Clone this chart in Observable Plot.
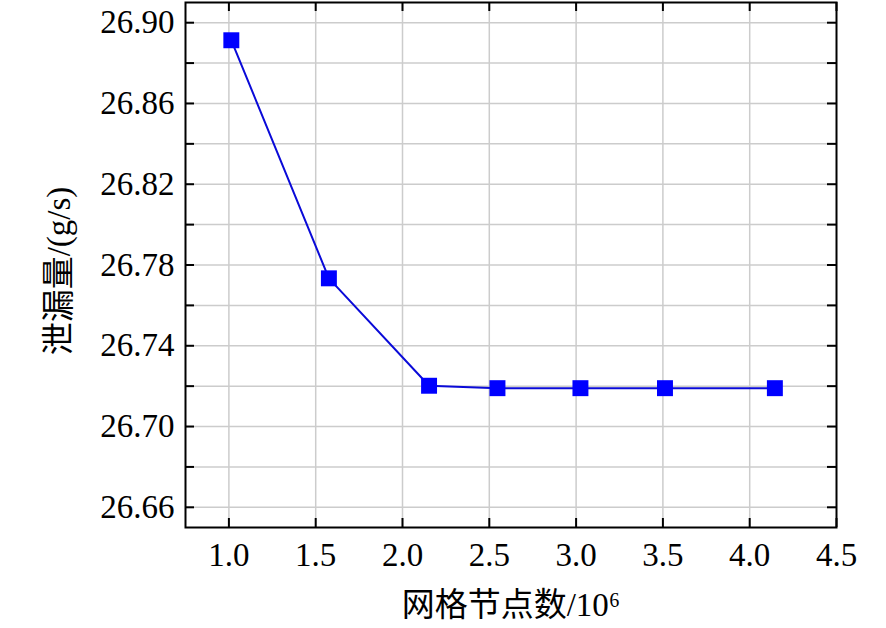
<!DOCTYPE html>
<html>
<head>
<meta charset="utf-8">
<script src="https://cdn.jsdelivr.net/npm/d3@7"></script>
<script src="https://cdn.jsdelivr.net/npm/@observablehq/plot@0.6"></script>
<style>
  html, body { margin: 0; padding: 0; background: #fff; }
</style>
</head>
<body>
<div id="chart"></div>
<script>
// Data
const nodes = [1.014, 1.576, 2.153, 2.547, 3.025, 3.512, 4.145];      // 网格节点数 /10^6
const leakage = [26.8913, 26.7734, 26.7202, 26.7190, 26.7190, 26.7190, 26.7190]; // 泄漏量 g/s

const xTicks = [1.0, 1.5, 2.0, 2.5, 3.0, 3.5, 4.0, 4.5];
const yLabelTicks = [26.66, 26.70, 26.74, 26.78, 26.82, 26.86, 26.90];
const yAllTicks = [26.66, 26.68, 26.70, 26.72, 26.74, 26.76, 26.78, 26.80, 26.82, 26.84, 26.86, 26.88, 26.90];
const xGrid = [1.0, 1.5, 2.0, 2.5, 3.0, 3.5, 4.0];
const xDomain = [0.75, 4.5];
const yDomain = [26.65, 26.91];
const xLabel = "网格节点数/10⁶";
const yLabel = "泄漏量/(g/s)";

const data = nodes.map((x, i) => ({x, y: leakage[i]}));

const W = 886, H = 628;
const mL = 185, mR = 50, mT = 2, mB = 101;
const innerW = W - mL - mR, innerH = H - mT - mB;
const tickLen = 9;
const font = "'Liberation Serif', 'Noto Sans CJK SC', serif";

const chart = Plot.plot({
  width: W,
  height: H,
  marginLeft: mL,
  marginRight: mR,
  marginTop: mT,
  marginBottom: mB,
  style: {fontFamily: font, fontSize: "33px", color: "#000", background: "#fff"},
  x: {domain: xDomain},
  y: {domain: yDomain},
  marks: [
    // grid
    Plot.ruleX(xGrid, {x: d => d, stroke: "#cccccc", strokeWidth: 1.5}),
    Plot.ruleY(yAllTicks, {y: d => d, stroke: "#cccccc", strokeWidth: 1.5}),
    // inward ticks: bottom & top
    Plot.ruleX(xTicks, {x: d => d, insetTop: innerH - tickLen, stroke: "#000", strokeWidth: 2}),
    Plot.ruleX(xTicks, {x: d => d, insetBottom: innerH - tickLen, stroke: "#000", strokeWidth: 2}),
    // inward ticks: left & right
    Plot.ruleY(yAllTicks, {y: d => d, insetRight: innerW - tickLen, stroke: "#000", strokeWidth: 2}),
    Plot.ruleY(yAllTicks, {y: d => d, insetLeft: innerW - tickLen, stroke: "#000", strokeWidth: 2}),
    // frame
    Plot.frame({stroke: "#000", strokeWidth: 2}),
    // tick labels
    Plot.axisX(xTicks, {tickSize: 0, tickPadding: 15, tickFormat: d3.format(".1f"), fontSize: 33, label: null}),
    Plot.axisY(yLabelTicks, {tickSize: 0, tickPadding: 11, tickFormat: d3.format(".2f"), fontSize: 33, label: null}),
    // axis titles
    Plot.text([xLabel], {text: d => d, frameAnchor: "bottom", lineAnchor: "middle", textAnchor: "middle", dy: 78, fontSize: 33, fill: "#000"}),
    Plot.text([yLabel], {text: d => d, frameAnchor: "left", textAnchor: "middle", lineAnchor: "middle", rotate: -90, dx: -126, dy: 6, fontSize: 33, fill: "#000"}),
    // series
    Plot.line(data, {x: "x", y: "y", stroke: "#0a0ad8", strokeWidth: 2}),
    Plot.dot(data, {x: "x", y: "y", symbol: "square", r: 9, fill: "#0000ff", stroke: "none"})
  ]
});

document.getElementById("chart").appendChild(chart);
</script>
</body>
</html>
